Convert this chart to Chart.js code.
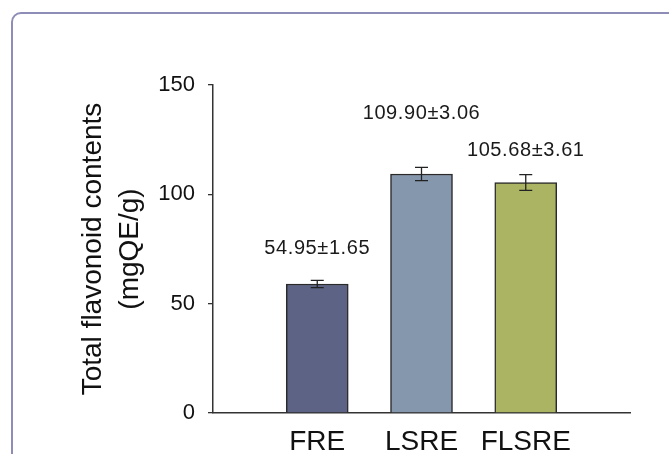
<!DOCTYPE html>
<html lang="en">
<head>
<meta charset="UTF-8">
<title>Total flavonoid contents</title>
<style>
  body { margin: 0; background: #fff; overflow: hidden; }
  .frame {
    position: absolute; left: 11px; top: 12px; width: 720px; height: 520px;
    border: 2px solid #8d8db8; border-radius: 10px; box-sizing: border-box;
  }
  #flavChart { position: absolute; left: 0; top: 0; }
</style>
</head>
<body>
<div class="frame"></div>
<canvas id="flavChart" width="669" height="454"></canvas>

<script src="https://cdn.jsdelivr.net/npm/chart.js"></script>
<script>
// values
const categories = ['FRE', 'LSRE', 'FLSRE'];
const meanValues = [59.0, 109.3, 105.4];
const errValues = [1.65, 3.06, 3.61];
const valueLabels = ['54.95\u00b11.65', '109.90\u00b13.06', '105.68\u00b13.61'];
const labelAt = [75.4, 137.2, 120.2];   // height of each label, in axis units
const barColors = ['#5c6384', '#8597ad', '#abb463'];
const yTicks = [0, 50, 100, 150];

const FONT = 'Liberation Sans, Arial, sans-serif';

// empty slot at each end of the axis, like the original figure
const xLabels = [''].concat(categories, ['']);
const padded = arr => [null].concat(arr, [null]);

// error bars + the mean±sd text
const errorBarPlugin = {
  id: 'errorBars',
  afterDatasetsDraw(chart) {
    const ctx = chart.ctx;
    const x = chart.scales.x, y = chart.scales.y;
    ctx.save();
    ctx.strokeStyle = '#222';
    ctx.lineWidth = 1.3;
    categories.forEach((c, i) => {
      const cx = x.getPixelForValue(i + 1);
      const top = y.getPixelForValue(meanValues[i] + errValues[i]);
      const bot = y.getPixelForValue(meanValues[i] - errValues[i]);
      ctx.beginPath();
      ctx.moveTo(cx, top); ctx.lineTo(cx, bot);
      ctx.moveTo(cx - 6.5, top); ctx.lineTo(cx + 6.5, top);
      ctx.moveTo(cx - 6.5, bot); ctx.lineTo(cx + 6.5, bot);
      ctx.stroke();
    });
    ctx.fillStyle = '#1a1a1a';
    ctx.font = '20px ' + FONT;
    ctx.letterSpacing = '0.6px';
    ctx.textAlign = 'center';
    ctx.textBaseline = 'middle';
    valueLabels.forEach((t, i) => {
      ctx.fillText(t, x.getPixelForValue(i + 1), y.getPixelForValue(labelAt[i]));
    });
    ctx.restore();
  }
};

new Chart(document.getElementById('flavChart').getContext('2d'), {
  type: 'bar',
  data: {
    labels: xLabels,
    datasets: [{
      data: padded(meanValues),
      backgroundColor: padded(barColors),
      borderColor: '#2a2a2a',
      borderWidth: 1.5,
      barThickness: 62
    }]
  },
  options: {
    responsive: false,
    animation: false,
    layout: { padding: { left: 0, right: 39, top: 85, bottom: 0 } },
    plugins: { legend: { display: false }, tooltip: { enabled: false } },
    scales: {
      x: {
        offset: false,
        grid: { display: false },
        border: { display: true, color: '#333', width: 1.5 },
        ticks: { color: '#111', font: { family: FONT, size: 28 }, padding: 4, maxRotation: 0, autoSkip: false },
        afterFit(scale) { scale.height = 41; }
      },
      y: {
        min: 0, max: 150,
        afterBuildTicks(scale) { scale.ticks = yTicks.map(v => ({ value: v })); },
        grid: { drawOnChartArea: false, drawTicks: true, tickLength: 5, color: '#333', lineWidth: 1.3 },
        border: { display: true, color: '#333', width: 1.5 },
        ticks: { color: '#111', font: { family: FONT, size: 22 }, padding: 13 },
        title: {
          display: true,
          text: ['Total flavonoid contents', '(mgQE/g)'],
          color: '#111',
          font: { family: FONT, size: 28, lineHeight: 1.32 },
          padding: { top: 75, bottom: 0 }
        },
        afterFit(scale) { scale.width = 213; }
      }
    }
  },
  plugins: [errorBarPlugin]
});
</script>
</body>
</html>
